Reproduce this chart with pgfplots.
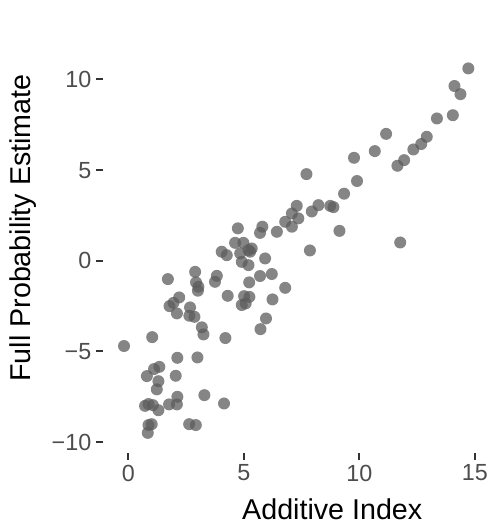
\documentclass[border=0pt]{standalone}
\usepackage{pgfplots}
\pgfplotsset{compat=1.18}
\usepackage{fontspec}
\setmainfont{Liberation Sans}
\definecolor{ptgray}{HTML}{5C5C5C}
\definecolor{ticklab}{HTML}{4D4D4D}
\definecolor{tickcol}{HTML}{333333}
\begin{document}
\begin{tikzpicture}
  % page frame (reference margins)
  \useasboundingbox (-77.25pt,-55.5pt) rectangle (292.5pt,339.75pt);
  \begin{axis}[
    anchor=south west, at={(0pt,0pt)},
    scale only axis,
    width=287.5pt, height=301.9pt,
    xmin=-1.1, xmax=15.5,
    ymin=-10.6, ymax=11.6,
    axis line style={draw=none},
    xtick={0,5,10,15},
    ytick={-10,-5,0,5,10},
    yticklabels={{−10},{−5},0,5,10},
    tick align=outside,
    xtick pos=bottom, ytick pos=left,
    major tick length=5.25pt,
    tick style={draw=tickcol, line width=1.5pt},
    ticklabel style={font=\fontsize{17.5}{20}\selectfont, text=ticklab},
    /pgf/number format/assume math mode=true,
    xlabel={Additive Index},
    ylabel={Full Probability Estimate},
    label style={font=\fontsize{21.5}{25}\selectfont},
    xlabel style={at={(axis description cs:0.598,0)}, anchor=base, yshift=-49.5pt},
    ylabel style={at={([xshift=-54pt]axis description cs:0,0.559)}, anchor=base},
  ]
    \addplot[only marks, mark=*, mark size=4.5pt, color=ptgray,
      mark options={draw=ptgray, draw opacity=0, fill=ptgray, fill opacity=0.75}]
    table {
      x y
      14.72 10.61
      14.12 9.64
      14.38 9.19
      14.05 8.03
      13.36 7.85
      12.92 6.84
      12.68 6.44
      12.34 6.14
      11.94 5.55
      11.65 5.24
      11.16 7.00
      10.67 6.05
      9.77 5.68
      9.90 4.40
      9.34 3.70
      7.71 4.78
      8.88 2.96
      8.74 3.03
      8.23 3.07
      7.94 2.72
      7.29 3.03
      7.36 2.34
      7.08 2.61
      7.08 1.88
      9.14 1.65
      7.86 0.57
      11.77 1.01
      6.79 2.15
      6.43 1.60
      5.80 1.88
      5.70 1.54
      4.74 1.79
      4.62 0.99
      4.98 0.99
      5.34 0.68
      5.20 0.59
      4.04 0.50
      4.26 0.31
      5.92 0.13
      4.84 0.41
      5.27 0.50
      4.91 -0.06
      5.20 -0.24
      1.71 -1.01
      2.89 -0.61
      3.83 -0.83
      3.75 -1.16
      2.93 -1.19
      3.03 -1.43
      3.01 -1.65
      5.23 -1.19
      5.70 -0.84
      6.21 -0.73
      6.79 -1.49
      6.24 -2.13
      4.30 -1.93
      5.01 -1.95
      5.24 -1.99
      4.91 -2.44
      5.08 -2.35
      5.96 -3.18
      5.72 -3.77
      2.20 -2.02
      1.95 -2.32
      1.78 -2.50
      2.10 -2.90
      2.67 -2.57
      2.64 -3.03
      2.86 -3.09
      3.18 -3.67
      3.25 -4.06
      4.20 -4.26
      1.03 -4.21
      -0.19 -4.70
      2.12 -5.35
      2.99 -5.33
      1.34 -5.85
      1.11 -5.97
      0.80 -6.36
      1.30 -6.64
      2.05 -6.34
      1.23 -7.09
      2.12 -7.50
      3.29 -7.41
      4.14 -7.87
      0.87 -7.90
      0.72 -8.00
      1.06 -7.96
      1.30 -8.24
      1.76 -7.92
      2.10 -7.92
      1.01 -9.01
      0.87 -9.06
      0.84 -9.49
      2.63 -9.01
      2.92 -9.06
    };
  \end{axis}
\end{tikzpicture}
\end{document}
